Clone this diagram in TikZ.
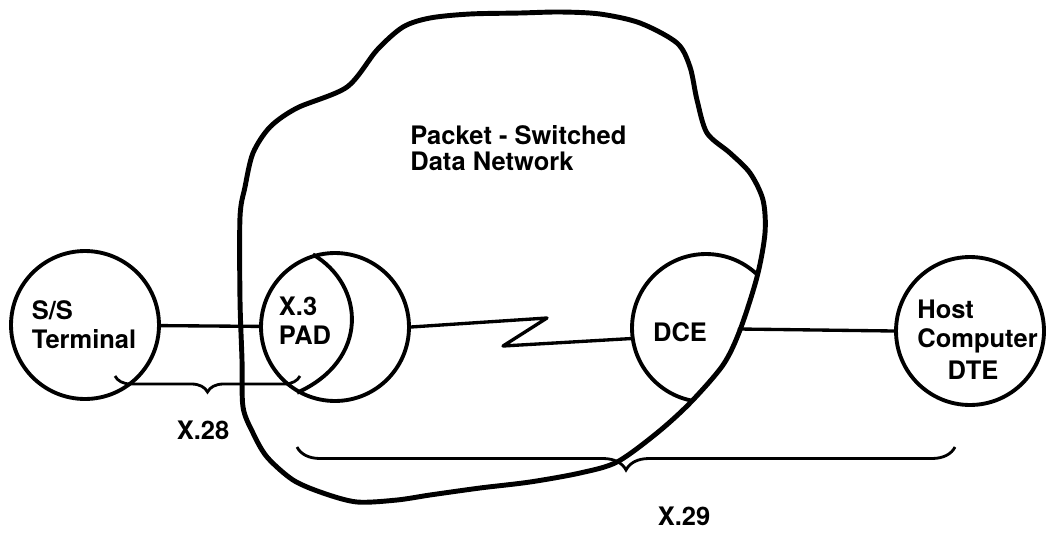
\documentclass[tikz,border=0pt]{standalone}
\usepackage{fontspec}
\setmainfont{TeX Gyre Heros}
\usetikzlibrary{decorations.pathreplacing}

\begin{document}
\begin{tikzpicture}[x=0.02cm, y=-0.02cm,
  unit/.style={circle, draw, line width=2.2pt, minimum size=2.96cm, inner sep=0pt},
  words/.style={font=\fontsize{14.5}{16.5}\selectfont\bfseries, inner sep=0pt, align=left},
  links/.style={line width=1.9pt, line join=round, line cap=round},
  bracket/.style={decorate, decoration={brace, amplitude=#1}, line width=1.6pt},
  cloud/.style={line width=2.8pt, line join=round}]

 \useasboundingbox (0,0) rectangle (1047,534);

 \path[save path=\netcloud] plot[smooth cycle, tension=0.5] coordinates {
   (242,360) (240,300) (240,217) (245,187) (253,153) (270,127) (297,108)
   (347,87) (377,50) (403,27) (430,18) (470,14) (520,13) (560,12) (600,14)
   (640,23) (677,43) (690,67) (697,100) (707,133) (730,153) (750,173)
   (763,200) (765,233) (757,277) (740,330) (723,365) (690,403) (657,433)
   (617,462) (580,473) (530,482) (480,488) (430,495) (397,500) (357,502)
   (323,493) (293,480) (267,457) (253,433) (243,407)};
 \draw[cloud, use path=\netcloud];

 \node[unit] (ss_term) at (85,325) {};
 \node[unit] (x3_pad) at (335,327) {};
 \node[unit] (host_dte) at (970,331) {};

 \begin{scope}
 \clip[use path=\netcloud];
 \node[unit] (dce_unit) at (706,328) {};
 \end{scope}

 \draw[line width=2.2pt] (x3_pad.107) .. controls (365,285) and (370,360) .. (x3_pad.240);

 \node[words] (ss_label) at (84,325) {S/S\\Terminal};
 \node[words] (pad_label) at (305,321) {X.3\\PAD};
 \node[words] (dce_label) at (680,332) {DCE};
 \node[words, anchor=north west] (host_label) at (917,300) {Host\\Computer};
 \node[words] (dte_label) at (973,370) {DTE};
 \node[words, anchor=north west, font=\fontsize{14.5}{14.8}\selectfont\bfseries]
   (net_label) at (410,125) {Packet - Switched\\Data Network};
 \node[words] (x28_label) at (203,430) {X.28};
 \node[words] (x29_label) at (684,516) {X.29};

 \coordinate (dce_edge) at (739,329);
 \coordinate (x28_left) at (115,376);
 \coordinate (x28_right) at (300,376);
 \coordinate (x29_left) at (297,447);
 \coordinate (x29_right) at (955,447);

 \draw[links] (ss_term) -- (x3_pad);
 \draw[links] (x3_pad.east) -- (547,318) -- (503,346) -- (dce_unit.188);
 \draw[links] (dce_edge) -- (host_dte.west);

 \draw[bracket=0.32cm] (x28_right) -- (x28_left);
 \draw[bracket=0.46cm] (x29_right) -- (x29_left);

\end{tikzpicture}
\end{document}
